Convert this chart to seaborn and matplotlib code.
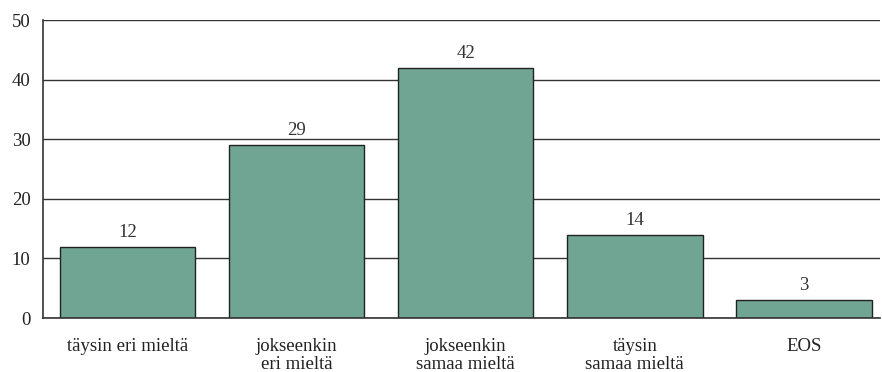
import pandas as pd
import seaborn as sns
import matplotlib.pyplot as plt

categories = ['täysin eri mieltä', 'jokseenkin\neri mieltä', 'jokseenkin\nsamaa mieltä',
              'täysin\nsamaa mieltä', 'EOS']
values = [12, 29, 42, 14, 3]

df = pd.DataFrame({'vastaus': categories, 'osuus': values})

sns.set_style('white')
plt.rcParams['font.family'] = ['Liberation Serif', 'DejaVu Serif']

fig = plt.figure(figsize=(8.82, 3.72), dpi=100)
ax = fig.add_axes([0.0488, 0.145, 0.949, 0.801])

ax.yaxis.grid(True, color='#333333', linewidth=1)
ax.set_axisbelow(True)
sns.barplot(data=df, x='vastaus', y='osuus', color='#6fa592', saturation=1,
            width=0.8, edgecolor='#222222', linewidth=1, ax=ax)

for i, v in enumerate(values):
    ax.text(i, v + 1.0, str(v), ha='center', va='bottom', fontsize=13.5, color='#333333')

ax.set_ylim(0, 50)
ax.set_xlim(-0.5, 4.45)
ax.set_yticks(range(0, 51, 10))
ax.set_xlabel('')
ax.set_ylabel('')
ax.tick_params(axis='both', length=0, labelsize=13.5, colors='#222222')
ax.tick_params(axis='x', pad=14)
ax.tick_params(axis='y', pad=9)
for lbl in ax.get_xticklabels():
    lbl.set_linespacing(1.15)
for s in ['top', 'right']:
    ax.spines[s].set_visible(False)
for s in ['left', 'bottom']:
    ax.spines[s].set_color('#333333')
    ax.spines[s].set_linewidth(1.2)

fig.savefig('out.png', dpi=100)
